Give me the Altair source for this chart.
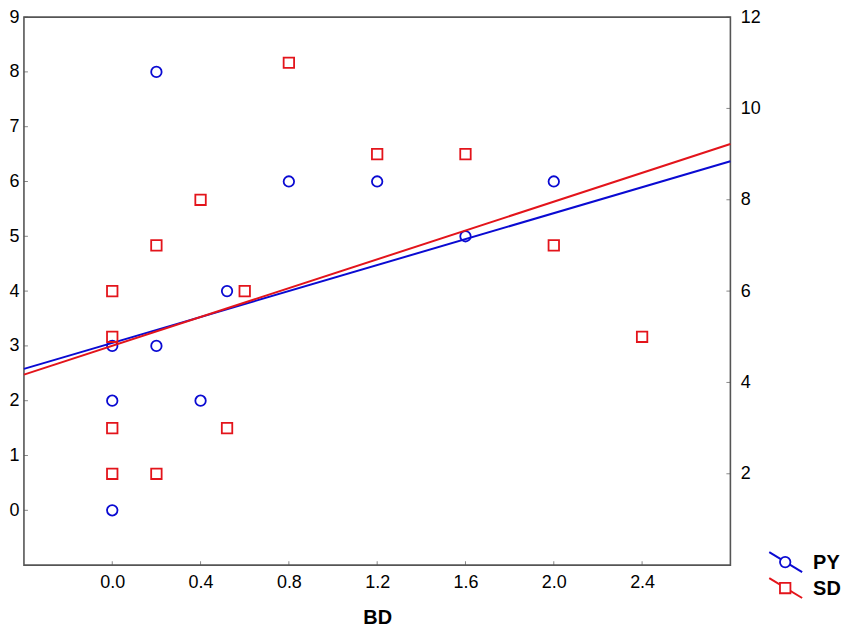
import altair as alt
import pandas as pd

# ---- data ----
py_bd = [0.0, 0.0, 0.0, 0.2, 0.2, 0.4, 0.52, 0.8, 1.2, 1.6, 2.0]
py_val = [0, 2, 3, 3, 8, 2, 4, 6, 6, 5, 6]

sd_bd = [0.0, 0.0, 0.0, 0.0, 0.2, 0.2, 0.4, 0.52, 0.6, 0.8, 1.2, 1.6, 2.0, 2.4]
sd_val = [6, 5, 3, 2, 7, 2, 8, 3, 6, 11, 9, 9, 7, 5]

# fitted lines (end points)
fit_bd = [-0.4, 2.8]
py_fit = [2.58, 6.37]
sd_fit = [4.17, 9.22]

x_ticks = [0.0, 0.4, 0.8, 1.2, 1.6, 2.0, 2.4]
left_ticks = [0, 1, 2, 3, 4, 5, 6, 7, 8, 9]
right_ticks = [2, 4, 6, 8, 10, 12]

BLUE = "#0a0ad2"
RED = "#e3141b"
FRAME = "#555555"
FONT = "Liberation Sans"
W, H = 709, 550
LBL = 18

py_df = pd.DataFrame({"BD": py_bd, "PY": py_val})
sd_df = pd.DataFrame({"BD": sd_bd, "SD": sd_val})
pyfit_df = pd.DataFrame({"BD": fit_bd, "PY": py_fit})
sdfit_df = pd.DataFrame({"BD": fit_bd, "SD": sd_fit})
xt_df = pd.DataFrame({"BD": x_ticks})
lt_df = pd.DataFrame({"PY": left_ticks})
rt_df = pd.DataFrame({"SD": right_ticks})

x_enc = alt.X(
    "BD:Q",
    scale=alt.Scale(domain=[-0.4, 2.8], nice=False, zero=False),
    axis=alt.Axis(values=x_ticks, format=".1f", ticks=False, domain=False, grid=False,
                  title="BD", labelPadding=8, titlePadding=17, titleFontSize=20,
                  titleFontWeight="bold", titleFont=FONT, titleColor="black",
                  labelFont=FONT, labelFontSize=LBL, labelColor="black"),
)
py_scale = alt.Scale(domain=[-1, 9], nice=False, zero=False)
sd_scale = alt.Scale(domain=[0, 12], nice=False, zero=False)

py_y = alt.Y("PY:Q", scale=py_scale,
             axis=alt.Axis(orient="left", values=left_ticks, ticks=False, domain=False,
                           grid=False, title=None, labelPadding=5,
                           labelFont=FONT, labelFontSize=LBL, labelColor="black"))
sd_y = alt.Y("SD:Q", scale=sd_scale,
             axis=alt.Axis(orient="right", values=right_ticks, ticks=False, domain=False,
                           grid=False, title=None, labelPadding=10,
                           labelFont=FONT, labelFontSize=LBL, labelColor="black"))

py_line = alt.Chart(pyfit_df).mark_line(color=BLUE, strokeWidth=2).encode(x=x_enc, y=py_y)
py_pts = alt.Chart(py_df).mark_point(shape="circle", filled=False, color=BLUE, size=110,
                                     strokeWidth=1.8, opacity=1).encode(x="BD:Q", y="PY:Q")
lt = alt.Chart(lt_df).mark_tick(color=FRAME, size=4, thickness=1).encode(
    y="PY:Q", x=alt.value(2))
xt = alt.Chart(xt_df).mark_tick(color=FRAME, size=4, thickness=1).encode(
    x="BD:Q", y=alt.value(H - 2))

sd_line = alt.Chart(sdfit_df).mark_line(color=RED, strokeWidth=2).encode(x="BD:Q", y=sd_y)
sd_pts = alt.Chart(sd_df).mark_point(shape="square", filled=False, color=RED, size=110,
                                     strokeWidth=1.8, opacity=1).encode(x="BD:Q", y="SD:Q")
rt = alt.Chart(rt_df).mark_tick(color=FRAME, size=4, thickness=1).encode(
    y="SD:Q", x=alt.value(W - 2))

group_py = alt.layer(py_line, lt, xt, py_pts)
group_sd = alt.layer(sd_line, rt, sd_pts)

# ---- manual legend (line with marker) ----
leg_py = pd.DataFrame({"label": ["PY"]})
leg_sd = pd.DataFrame({"label": ["SD"]})

def legend_entry(df, color, shape, y0):
    line = alt.Chart(df).mark_rule(color=color, strokeWidth=2).encode(
        x=alt.value(748), x2=alt.value(781), y=alt.value(y0 - 10), y2=alt.value(y0 + 10))
    sym = alt.Chart(df).mark_point(shape=shape, filled=True, fill="white", stroke=color,
                                   strokeWidth=1.8, size=110, opacity=1).encode(
        x=alt.value(764), y=alt.value(y0))
    txt = alt.Chart(df).mark_text(align="left", baseline="middle", font=FONT, fontSize=20,
                                  fontWeight="bold", color="black").encode(
        text="label:N", x=alt.value(792), y=alt.value(y0 + 1))
    return [line, sym, txt]

legend_layers = legend_entry(leg_py, BLUE, "circle", 547) + legend_entry(leg_sd, RED, "square", 573)

chart = alt.layer(group_py, group_sd, *legend_layers).resolve_scale(
    y="independent"
).properties(
    width=W, height=H,
    autosize=alt.AutoSizeParams(type="none"),
    padding={"left": 16, "top": 8, "right": 112, "bottom": 62},
).configure_view(
    stroke=FRAME, strokeWidth=1.6
).configure_axis(
    labelFont=FONT, labelFontSize=LBL, labelColor="black",
    titleFont=FONT, titleColor="black",
)

chart.save("out.html", embed_options={"renderer": "svg", "actions": False})
